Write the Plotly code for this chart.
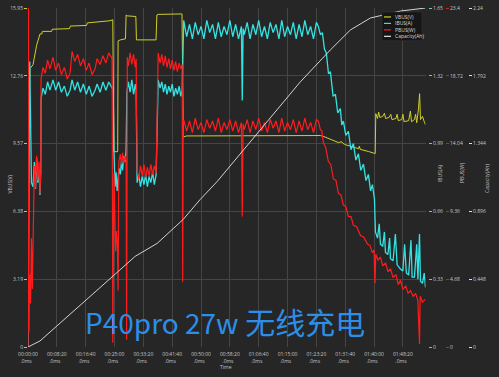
import plotly.graph_objects as go

BG = "#262627"
GRID = "#454545"
TXT = "#c4c4c4"
C_V = "#cfcf2a"
C_I = "#33e3e3"
C_P = "#ff1c1c"
C_C = "#e6e6e6"

time_ticks_s = [0, 500, 1000, 1500, 2000, 2500, 3000, 3500, 4000, 4500, 5000, 5500, 6000, 6500]
time_tick_labels = ["00:00:00", "00:08:20", "00:16:40", "00:25:00", "00:33:20", "00:41:40", "00:50:00",
                    "00:58:20", "01:06:40", "01:15:00", "01:23:20", "01:31:40", "01:40:00", "01:48:20"]
time_max_s = 6892

vbus_ticks = [0, 3.19, 6.38, 9.57, 12.76, 15.95]
ibus_ticks = [0, 0.33, 0.66, 0.99, 1.32, 1.65]
pbus_ticks = [0, 4.68, 9.36, 14.04, 18.72, 23.4]
cap_ticks = [0, 0.448, 0.896, 1.344, 1.792, 2.24]

series_names = ["VBUS(V)", "IBUS(A)", "PBUS(W)", "Capacity(Ah)"]

vbus_points = [
    (0, 9.19), (12, 10.6), (25, 12.4), (35, 13.1), (87, 13.28), (150, 14.2), (208, 14.73), (240, 14.73),
    (250, 14.85), (410, 14.85), (420, 14.95), (720, 14.98), (735, 15.10), (1015, 15.13), (1030, 15.25),
    (1420, 15.35), (1470, 15.40), (1478, 12.0), (1490, 9.19), (1555, 9.19), (1562, 14.40), (1600, 14.45),
    (1690, 14.5), (1701, 15.62), (1720, 15.58), (1870, 15.55), (1880, 14.45), (2220, 14.45), (2235, 15.62),
    (2257, 15.65), (2670, 15.67), (2685, 12.0), (2691, 9.88), (2750, 9.93), (5034, 9.95), (5070, 9.95),
    (5150, 9.88), (5243, 9.76), (5380, 9.62), (5440, 9.66), (5460, 9.58), (5503, 9.52), (5640, 9.40),
    (5730, 9.33), (5745, 9.45), (5760, 9.30), (5900, 9.20), (6020, 9.10), (6030, 10.98), (6060, 10.75),
    (6080, 11.05), (6100, 10.80), (6150, 10.85), (6180, 11.00), (6200, 10.75), (6260, 10.80), (6290, 10.95),
    (6310, 10.70), (6380, 10.75), (6400, 10.95), (6420, 10.65), (6480, 10.70), (6500, 10.95), (6520, 10.60),
    (6600, 10.65), (6630, 11.10), (6650, 10.60), (6700, 10.70), (6720, 10.95), (6740, 10.55), (6770, 11.20),
    (6790, 11.92), (6805, 10.70), (6840, 10.85), (6870, 10.60), (6892, 10.46),
]

ibus_points = [
    (0, 0.0), (15, 0.90), (30, 1.39), (45, 1.10), (60, 0.80), (87, 0.78), (110, 0.90), (130, 0.77),
    (150, 0.92), (170, 0.80), (190, 0.86), (208, 0.74), (220, 0.85),
    (226, 1.21), (260, 1.26), (300, 1.23), (340, 1.29), (380, 1.25), (434, 1.30), (480, 1.25), (530, 1.29),
    (580, 1.24), (630, 1.27), (680, 1.22), (729, 1.25), (764, 1.30), (810, 1.25), (860, 1.29), (910, 1.24),
    (960, 1.28), (1010, 1.23), (1060, 1.27), (1110, 1.22), (1163, 1.25), (1198, 1.28), (1250, 1.24),
    (1300, 1.29), (1350, 1.25), (1400, 1.29), (1458, 1.26),
    (1476, 1.26), (1490, 0.95), (1510, 0.78), (1528, 0.85), (1545, 0.76), (1562, 0.82), (1580, 0.87),
    (1600, 0.84), (1620, 0.90), (1640, 0.86), (1660, 0.93), (1684, 0.90), (1701, 0.96), (1715, 1.24),
    (1740, 1.29), (1770, 1.24), (1800, 1.30), (1830, 1.23), (1860, 1.28), (1875, 1.25),
    (1892, 0.80), (1920, 0.84), (1950, 0.78), (1980, 0.83), (2010, 0.79), (2040, 0.84), (2070, 0.78),
    (2100, 0.83), (2130, 0.80), (2160, 0.85), (2190, 0.79), (2222, 0.84),
    (2257, 1.30), (2290, 1.26), (2320, 1.29), (2350, 1.24), (2380, 1.28), (2410, 1.23), (2440, 1.27),
    (2470, 1.24), (2500, 1.28), (2530, 1.22), (2560, 1.26), (2590, 1.23), (2620, 1.27), (2650, 1.22),
    (2673, 1.25),
    (2700, 1.59), (2750, 1.51), (2800, 1.57), (2850, 1.50), (2900, 1.58), (2950, 1.52), (3000, 1.56),
    (3050, 1.50), (3100, 1.59), (3150, 1.53), (3200, 1.57), (3250, 1.50), (3300, 1.58), (3350, 1.51),
    (3400, 1.56), (3450, 1.52), (3500, 1.59), (3550, 1.51), (3600, 1.57), (3650, 1.50), (3700, 1.56),
    (3715, 1.20), (3730, 1.55), (3750, 1.52), (3800, 1.58), (3850, 1.50), (3900, 1.57), (3950, 1.52),
    (4000, 1.59), (4050, 1.51), (4100, 1.56), (4150, 1.50), (4200, 1.58), (4250, 1.53), (4300, 1.57),
    (4350, 1.50), (4400, 1.59), (4450, 1.51), (4500, 1.56), (4550, 1.52), (4600, 1.58), (4650, 1.50),
    (4700, 1.57), (4750, 1.51), (4800, 1.59), (4850, 1.52), (4900, 1.56), (4950, 1.50), (5000, 1.58),
    (5034, 1.56), (5070, 1.52), (5104, 1.53), (5140, 1.45), (5173, 1.43), (5210, 1.33), (5243, 1.34),
    (5290, 1.22), (5330, 1.23), (5370, 1.14), (5416, 1.16), (5440, 1.08), (5468, 1.10), (5510, 1.03),
    (5555, 1.05), (5600, 0.96), (5642, 0.99), (5685, 0.91), (5729, 0.94), (5770, 0.86), (5816, 0.89),
    (5860, 0.81), (5902, 0.84), (5940, 0.76), (5972, 0.79), (6007, 0.72), (6024, 0.56), (6060, 0.53),
    (6090, 0.60), (6111, 0.50), (6150, 0.49), (6180, 0.56), (6198, 0.46), (6240, 0.45), (6270, 0.53),
    (6284, 0.43), (6330, 0.42), (6370, 0.55), (6400, 0.40), (6458, 0.38), (6500, 0.37), (6530, 0.50),
    (6560, 0.36), (6600, 0.35), (6640, 0.52), (6660, 0.34), (6700, 0.34), (6740, 0.50), (6760, 0.33),
    (6788, 0.55), (6805, 0.32), (6840, 0.31), (6870, 0.36), (6892, 0.29),
]

pbus_points = [
    (0, 0.0), (8, 23.4), (16, 1.0), (30, 5.0), (45, 3.0), (60, 7.5), (75, 4.0), (90, 9.0), (110, 12.5),
    (130, 11.0), (150, 13.2), (170, 11.5), (190, 12.8), (208, 10.6), (220, 12.0),
    (226, 18.5), (260, 19.3), (300, 18.9), (340, 19.8), (380, 19.2), (434, 20.0), (480, 19.1), (530, 19.6),
    (580, 18.8), (630, 19.3), (680, 18.5), (729, 18.9), (764, 20.4), (810, 19.7), (860, 20.2), (910, 19.4),
    (960, 19.9), (1010, 19.1), (1060, 19.6), (1110, 18.8), (1163, 19.2), (1198, 19.9), (1250, 19.5),
    (1300, 20.1), (1350, 19.6), (1400, 20.3), (1458, 19.9),
    (1470, 0.3), (1490, 12.0), (1505, 8.5), (1520, 6.6), (1535, 8.0), (1550, 7.0), (1562, 3.9),
    (1575, 12.8), (1600, 13.3), (1620, 12.6), (1640, 13.4), (1660, 12.7), (1684, 13.2), (1701, 12.8),
    (1710, 0.5), (1722, 20.0), (1740, 19.4), (1770, 20.3), (1800, 19.5), (1830, 20.2), (1860, 19.3),
    (1875, 19.9),
    (1892, 12.2), (1920, 11.6), (1950, 12.5), (1980, 11.8), (2010, 12.6), (2040, 11.7), (2070, 12.4),
    (2100, 11.8), (2130, 12.6), (2160, 11.9), (2190, 12.5), (2222, 12.0),
    (2257, 20.3), (2290, 19.6), (2320, 20.2), (2350, 19.4), (2380, 20.1), (2410, 19.3), (2440, 19.9),
    (2470, 19.2), (2500, 19.8), (2530, 19.1), (2560, 19.7), (2590, 19.0), (2620, 19.6), (2650, 19.2),
    (2673, 19.5), (2682, 4.5), (2691, 15.5),
    (2700, 15.7), (2750, 14.9), (2800, 15.6), (2850, 14.8), (2900, 15.8), (2950, 15.0), (3000, 15.5),
    (3050, 14.8), (3100, 15.7), (3150, 15.1), (3200, 15.6), (3250, 14.9), (3300, 15.8), (3350, 14.8),
    (3400, 15.5), (3450, 15.0), (3500, 15.7), (3550, 14.9), (3600, 15.6), (3650, 14.8), (3700, 15.5),
    (3715, 9.0), (3730, 15.4), (3750, 15.0), (3800, 15.7), (3850, 14.8), (3900, 15.6), (3950, 15.0),
    (4000, 15.8), (4050, 14.9), (4100, 15.5), (4150, 14.8), (4200, 15.7), (4250, 15.1), (4300, 15.6),
    (4350, 14.8), (4400, 15.8), (4450, 14.9), (4500, 15.5), (4550, 15.0), (4600, 15.7), (4650, 14.8),
    (4700, 15.6), (4750, 14.9), (4800, 15.8), (4850, 15.0), (4900, 15.5), (4950, 14.8), (5000, 15.7),
    (5034, 15.6), (5069, 15.0), (5095, 14.9), (5121, 14.1), (5160, 13.8), (5208, 12.8), (5250, 12.6),
    (5295, 11.6), (5340, 11.5), (5382, 10.6), (5425, 10.5), (5468, 9.8), (5510, 9.7), (5555, 9.0),
    (5600, 9.0), (5642, 8.4), (5700, 8.3), (5764, 7.7), (5820, 7.6), (5885, 7.1), (5930, 7.0),
    (5972, 6.5), (6000, 6.7), (6015, 4.4), (6030, 6.4), (6070, 6.0), (6111, 6.2), (6150, 5.6),
    (6200, 5.8), (6240, 5.2), (6284, 5.4), (6330, 4.8), (6380, 5.0), (6420, 4.3), (6458, 4.6),
    (6500, 4.0), (6550, 4.2), (6590, 3.7), (6631, 3.9), (6680, 3.5), (6720, 3.7), (6760, 3.2),
    (6788, 0.2), (6800, 3.5), (6840, 3.1), (6892, 3.3),
]

capacity_points = [
    (0, 0.0), (100, 0.018), (208, 0.04), (1510, 0.481), (1858, 0.599), (2240, 0.685), (2691, 0.843),
    (2986, 0.975), (3281, 1.094), (4722, 1.752), (5243, 1.963), (5590, 2.095), (5937, 2.174),
    (6458, 2.22), (6892, 2.24),
]


def split(points):
    return [p[0] for p in points], [p[1] for p in points]


fig = go.Figure()
for pts, yax, color, width, name in [
    (vbus_points, "y", C_V, 1.0, series_names[0]),
    (ibus_points, "y2", C_I, 1.3, series_names[1]),
    (pbus_points, "y3", C_P, 1.2, series_names[2]),
    (capacity_points, "y4", C_C, 0.9, series_names[3]),
]:
    t, v = split(pts)
    fig.add_trace(go.Scatter(x=t, y=v, yaxis=yax, mode="lines", name=name,
                             line=dict(color=color, width=width), showlegend=False))

L, R, T, B = 28, 5, 6, 30
W, H = 499, 377
PW, PH = W - L - R, H - T - B


def px(x):
    return (x - L) / PW


def py(y):
    return (H - B - y) / PH


tickfont = dict(family="Open Sans, DejaVu Sans", size=5, color=TXT)


def fmt(v):
    return f"{v:g}"


fig.update_layout(
    width=W, height=H, margin=dict(l=L, r=R, t=T, b=B),
    paper_bgcolor=BG, plot_bgcolor=BG, showlegend=False,
    xaxis=dict(domain=[0, px(425.5)], range=[0, time_max_s], tickvals=time_ticks_s,
               ticktext=[lab + "<br>.0ms&nbsp;&nbsp;&nbsp;" for lab in time_tick_labels],
               showgrid=True, gridcolor=GRID, gridwidth=1, zeroline=False, showline=False,
               ticks="", tickfont=tickfont, ticklabelstandoff=3),
    yaxis=dict(range=[0, vbus_ticks[-1]], tickvals=vbus_ticks, ticktext=[fmt(v) for v in vbus_ticks],
               showgrid=True, gridcolor=GRID, zeroline=False, showline=False,
               ticks="outside", ticklen=3, tickcolor=C_V, tickfont=tickfont),
    yaxis2=dict(range=[0, ibus_ticks[-1]], tickvals=ibus_ticks, ticktext=[fmt(v) for v in ibus_ticks],
                overlaying="y", side="right", anchor="free", position=px(428),
                showgrid=False, zeroline=False, showline=False,
                ticks="outside", ticklen=3, tickcolor="#5fcfcf", tickfont=tickfont),
    yaxis3=dict(range=[0, pbus_ticks[-1]], tickvals=pbus_ticks, ticktext=[fmt(v) for v in pbus_ticks],
                overlaying="y", side="right", anchor="free", position=px(445),
                showgrid=False, zeroline=False, showline=False,
                ticks="outside", ticklen=3, tickcolor="#d02020", tickfont=tickfont),
    yaxis4=dict(range=[0, cap_ticks[-1]], tickvals=cap_ticks, ticktext=[fmt(v) for v in cap_ticks],
                overlaying="y", side="right", anchor="free", position=px(468),
                showgrid=False, zeroline=False, showline=False,
                ticks="outside", ticklen=3, tickcolor="#e0e0e0", tickfont=tickfont),
)

ann = []
titlefont = dict(family="Open Sans, DejaVu Sans", size=5, color=TXT)
for text, x, y in [("VBUS(V)", 9.5, 183), ("IBUS(A)", 440, 172), ("PBUS(W)", 462, 172),
                   ("Capacity(Ah)", 487, 178)]:
    ann.append(dict(text=text, x=px(x), y=py(y), xref="paper", yref="paper", showarrow=False,
                    textangle=-90, font=titlefont, xanchor="center", yanchor="middle"))
ann.append(dict(text="Time", x=px(226), y=py(367), xref="paper", yref="paper", showarrow=False,
                font=titlefont, xanchor="center", yanchor="middle"))

# legend
shapes = [dict(type="rect", xref="paper", yref="paper", x0=px(382), x1=px(422), y0=py(39), y1=py(10),
               fillcolor="#161616", line=dict(color="#3a3a3a", width=0.5), layer="above")]
leg_colors = [C_V, C_I, C_P, C_C]
for i, (name, col) in enumerate(zip(series_names, leg_colors)):
    yy = 15 + i * 6.5
    shapes.append(dict(type="line", xref="paper", yref="paper", x0=px(384), x1=px(391), y0=py(yy), y1=py(yy),
                       line=dict(color=col, width=1.2), layer="above"))
    ann.append(dict(text=name, x=px(392.5), y=py(yy), xref="paper", yref="paper", showarrow=False,
                    xanchor="left", yanchor="middle", font=dict(family="Open Sans, DejaVu Sans", size=5, color="#d8d8d8")))

ann.append(dict(text='<span style="font-size:28px">P40pro 27w</span>&nbsp;无线充电',
                x=px(225), y=py(321), xref="paper", yref="paper", showarrow=False,
                xanchor="center", yanchor="middle",
                font=dict(family="Noto Sans CJK SC", size=30, color="#2d8ee8")))

fig.update_layout(annotations=ann, shapes=shapes)
fig.write_html("out.html", config={"displayModeBar": False},
               post_script="document.body.style.margin='0';document.body.style.padding='0';"
                           "document.body.style.background='" + BG + "';")
